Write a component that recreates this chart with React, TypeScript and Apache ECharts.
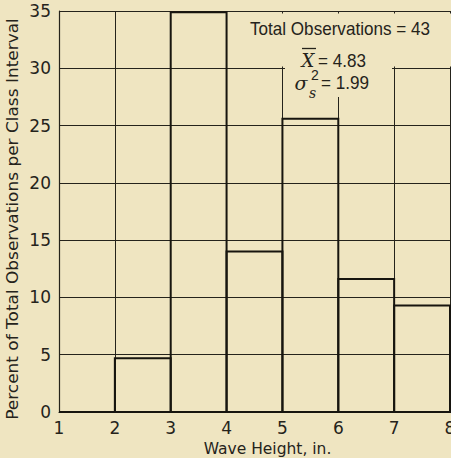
import React, { useEffect, useRef } from "react";
import * as echarts from "echarts";

const binStarts = [1, 2, 3, 4, 5, 6, 7];
const binEnds = [2, 3, 4, 5, 6, 7, 8];
const percents = [0, 4.7, 34.9, 14.0, 25.6, 11.6, 9.3];
const xMin = 1;
const xMax = 8;
const yMin = 0;
const yMax = 35;
const yStep = 5;
const xTitle = "Wave Height, in.";
const yTitle = "Percent of Total Observations per Class Interval";
const statsTitle = "Total Observations = 43";
const meanValue = "= 4.83";
const varValue = "= 1.99";

const BG = "#efe5c1";
const INK = "#25231b";

export default function App() {
  const ref = useRef<HTMLDivElement>(null);
  useEffect(() => {
    if (!ref.current) return;
    const chart = echarts.init(ref.current, null, { renderer: "svg" });
    const data = binStarts.map((s, i) => [s, binEnds[i], percents[i]]);
    chart.setOption({
      animation: false,
      backgroundColor: BG,
      grid: {
        left: 59,
        right: 1,
        top: 11,
        bottom: 46,
        containLabel: false,
        outerBoundsMode: "none",
      },
      xAxis: {
        type: "value",
        min: xMin,
        max: xMax,
        interval: 1,
        name: xTitle,
        nameLocation: "middle",
        nameGap: 25,
        nameTextStyle: {
          fontFamily: "DejaVu Sans",
          fontSize: 15.5,
          color: INK,
          padding: [0, 0, 0, 26],
        },
        axisLine: { show: true, lineStyle: { color: INK, width: 1.2 } },
        axisTick: { show: false },
        axisLabel: {
          fontFamily: "DejaVu Sans",
          fontSize: 17,
          color: INK,
          margin: 7,
          showMaxLabel: true,
          showMinLabel: true,
          hideOverlap: false,
        },
        splitLine: { show: true, lineStyle: { color: INK, width: 1 } },
      },
      yAxis: {
        type: "value",
        min: yMin,
        max: yMax,
        interval: yStep,
        axisLine: { show: true, lineStyle: { color: INK, width: 1.2 } },
        axisTick: { show: false },
        axisLabel: {
          fontFamily: "DejaVu Sans",
          fontSize: 17,
          color: INK,
          margin: 8,
        },
        splitLine: { show: true, lineStyle: { color: INK, width: 1 } },
      },
      series: [
        {
          type: "custom",
          z: 3,
          encode: { x: [0, 1], y: 2 },
          data,
          renderItem: (params: any, api: any) => {
            const x0 = api.value(0);
            const x1 = api.value(1);
            const v = api.value(2);
            const p0 = api.coord([x0, v]);
            const p1 = api.coord([x1, 0]);
            return {
              type: "rect",
              shape: {
                x: p0[0],
                y: p0[1],
                width: p1[0] - p0[0],
                height: p1[1] - p0[1],
              },
              style: { fill: "none", stroke: "#17150f", lineWidth: 2 },
            };
          },
        },
      ],
      graphic: [
        {
          type: "text",
          z: 10,
          x: 13,
          y: 219,
          rotation: Math.PI / 2,
          scaleX: 1.13,
          style: {
            text: yTitle,
            fontFamily: "DejaVu Sans",
            fontSize: 15,
            fill: INK,
            align: "center",
            verticalAlign: "middle",
          },
        },
        {
          type: "rect",
          z: 1,
          shape: { x: 232, y: 13.5, width: 219, height: 53 },
          style: { fill: BG },
        },
        {
          type: "rect",
          z: 1,
          shape: { x: 285, y: 66, width: 107, height: 31 },
          style: { fill: BG },
        },
        {
          type: "text",
          z: 10,
          x: 340,
          y: 29,
          scaleX: 0.95,
          style: {
            text: statsTitle,
            fontFamily: "Liberation Sans",
            fontSize: 18,
            fill: INK,
            align: "center",
            verticalAlign: "middle",
          },
        },
        {
          type: "text",
          z: 10,
          x: 308,
          y: 60,
          style: {
            text: "X",
            fontFamily: "DejaVu Serif",
            fontStyle: "italic",
            fontSize: 18,
            fill: INK,
            align: "center",
            verticalAlign: "middle",
          },
        },
        {
          type: "line",
          z: 10,
          shape: { x1: 302, y1: 48.5, x2: 316, y2: 48.5 },
          style: { stroke: INK, lineWidth: 1.3 },
        },
        {
          type: "text",
          z: 10,
          x: 318,
          y: 61,
          scaleX: 0.95,
          style: {
            text: meanValue,
            fontFamily: "Liberation Sans",
            fontSize: 18,
            fill: INK,
            align: "left",
            verticalAlign: "middle",
          },
        },
        {
          type: "text",
          z: 10,
          x: 301,
          y: 83,
          style: {
            text: "σ",
            fontFamily: "DejaVu Serif",
            fontStyle: "italic",
            fontSize: 19,
            fill: INK,
            align: "center",
            verticalAlign: "middle",
          },
        },
        {
          type: "text",
          z: 10,
          x: 309,
          y: 93,
          style: {
            text: "s",
            fontFamily: "DejaVu Serif",
            fontStyle: "italic",
            fontSize: 14,
            fill: INK,
            align: "left",
            verticalAlign: "middle",
          },
        },
        {
          type: "text",
          z: 10,
          x: 311,
          y: 75,
          style: {
            text: "2",
            fontFamily: "Liberation Sans",
            fontSize: 14,
            fill: INK,
            align: "left",
            verticalAlign: "middle",
          },
        },
        {
          type: "text",
          z: 10,
          x: 321,
          y: 83,
          scaleX: 0.95,
          style: {
            text: varValue,
            fontFamily: "Liberation Sans",
            fontSize: 18,
            fill: INK,
            align: "left",
            verticalAlign: "middle",
          },
        },
      ],
    });
    return () => chart.dispose();
  }, []);
  return (
    <div
      ref={ref}
      style={{ position: "fixed", left: 0, top: 0, width: 451, height: 458 }}
    />
  );
}
